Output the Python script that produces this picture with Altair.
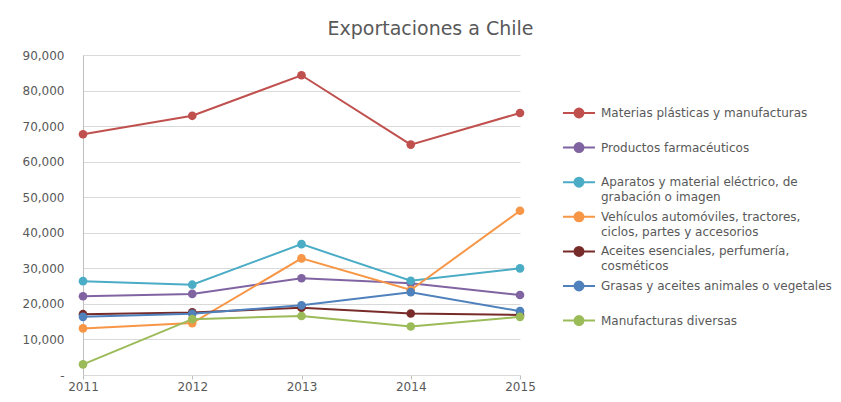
import altair as alt
import pandas as pd

years = ["2011", "2012", "2013", "2014", "2015"]

series_names = [
    "Materias plásticas y manufacturas",
    "Productos farmacéuticos",
    "Aparatos y material eléctrico, de grabación o imagen",
    "Vehículos automóviles, tractores, ciclos, partes y accesorios",
    "Aceites esenciales, perfumería, cosméticos",
    "Grasas y aceites animales o vegetales",
    "Manufacturas diversas",
]

materias_plasticas = [67700, 72900, 84300, 64800, 73700]
productos_farmaceuticos = [22150, 22800, 27200, 25800, 22500]
aparatos_electricos = [26400, 25400, 36800, 26500, 30000]
vehiculos = [13100, 14600, 32800, 23900, 46200]
aceites_esenciales = [17100, 17600, 18900, 17300, 16900]
grasas_aceites = [16350, 17200, 19600, 23300, 17950]
manufacturas_diversas = [3000, 15700, 16600, 13650, 16350]

series_values = [
    materias_plasticas,
    productos_farmaceuticos,
    aparatos_electricos,
    vehiculos,
    aceites_esenciales,
    grasas_aceites,
    manufacturas_diversas,
]

colors = ["#C0504D", "#8064A2", "#4BACC6", "#F79646", "#772C2A", "#4F81BD", "#9BBB59"]

# legend label line breaks (as shown in the reference)
legend_lines = {
    "Materias plásticas y manufacturas": ["Materias plásticas y manufacturas", ""],
    "Productos farmacéuticos": ["Productos farmacéuticos", ""],
    "Aparatos y material eléctrico, de grabación o imagen": ["Aparatos y material eléctrico, de", "grabación o imagen"],
    "Vehículos automóviles, tractores, ciclos, partes y accesorios": ["Vehículos automóviles, tractores,", "ciclos, partes y accesorios"],
    "Aceites esenciales, perfumería, cosméticos": ["Aceites esenciales, perfumería,", "cosméticos"],
    "Grasas y aceites animales o vegetales": ["Grasas y aceites animales o vegetales", ""],
    "Manufacturas diversas": ["Manufacturas diversas", ""],
}

rows = []
for name, vals in zip(series_names, series_values):
    for y, v in zip(years, vals):
        rows.append({"Año": y, "Serie": name, "Valor": v})
df = pd.DataFrame(rows)

label_expr = "datum.label"
for full, parts in legend_lines.items():
    arr = "[" + ",".join("'" + p + "'" for p in parts) + "]"
    label_expr = f"datum.label == '{full}' ? {arr} : (" + label_expr + ")"

font = "DejaVu Sans"
gray = "#595959"

color = alt.Color(
    "Serie:N",
    sort=series_names,
    scale=alt.Scale(domain=series_names, range=colors),
    legend=alt.Legend(
        title=None,
        orient="none",
        legendX=479,
        legendY=49,
        symbolType="M-2,0L2,0M-0.56,0A0.56,0.56,0,1,1,0.56,0A0.56,0.56,0,1,1,-0.56,0",
        symbolSize=256,
        symbolOffset=8,
        symbolStrokeWidth=2,
        labelExpr=label_expr,
        labelFont=font,
        labelFontSize=12,
        labelColor=gray,
        labelLimit=400,
        labelOffset=13,
        rowPadding=4.6,
        padding=0,
    ),
)

base = alt.Chart(df).encode(
    x=alt.X(
        "Año:O",
        sort=years,
        scale=alt.Scale(type="point", padding=0),
        axis=alt.Axis(
            title=None,
            labelAngle=0,
            labelFont=font,
            labelFontSize=12,
            labelColor=gray,
            domainColor="#D9D9D9",
            tickColor="#BFBFBF",
            tickSize=4,
            labelPadding=2,
            grid=False,
        ),
    ),
    y=alt.Y(
        "Valor:Q",
        scale=alt.Scale(domain=[0, 90000], nice=False),
        axis=alt.Axis(
            title=None,
            values=list(range(0, 90001, 10000)),
            labelExpr="datum.value == 0 ? '-' : format(datum.value, ',')",
            labelFont=font,
            labelFontSize=12,
            labelColor=gray,
            ticks=False,
            labelPadding=19,
            domainColor="#BFBFBF",
            gridColor="#D9D9D9",
        ),
    ),
    color=color,
)

lines = base.mark_line(strokeWidth=2)
points = base.mark_point(filled=True, size=75, opacity=1)

chart = (
    alt.layer(lines, points)
    .properties(
        width=437,
        height=320,
        padding={"left": 14, "top": 12, "right": 0, "bottom": 0},
        title=alt.TitleParams(
            "Exportaciones a Chile",
            font=font,
            fontSize=19,
            fontWeight="normal",
            color=gray,
            anchor="middle",
            frame="group",
            dx=129,
            offset=10,
        ),
    )
    .configure(
        view=alt.ViewConfig(stroke=None),
        style={"guide-label": {"lineHeight": 15}},
    )
)

chart.save("out.html", embed_options={"renderer": "svg", "actions": False})
